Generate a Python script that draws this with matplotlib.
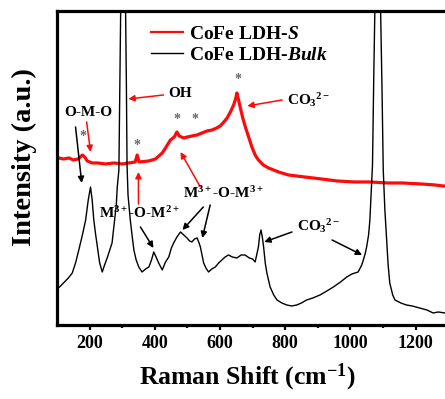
import numpy as np
import matplotlib
matplotlib.use("Agg")
import matplotlib.pyplot as plt

# ==========================================
# Data
# ==========================================
bulk_shift = [100, 108, 120, 135, 147, 157, 167, 178, 188, 196, 203, 208, 213, 218,
              224, 231, 239, 246, 254, 262, 269, 277, 282, 285, 290, 293, 296, 303,
              310, 313, 315, 318, 325, 331, 336, 343, 351, 361, 372, 382, 390, 397,
              404, 412, 423, 433, 443, 451, 458, 468, 479, 489, 499, 507, 514, 522,
              530, 536, 540, 545, 550, 557, 565, 575, 586, 596, 606, 616, 626, 638,
              652, 665, 677, 690, 700, 708, 714, 718, 722, 726, 730, 734, 739, 744,
              749, 754, 765, 775, 790, 805, 820, 836, 850, 866, 885, 907, 928, 948,
              970, 989, 1005, 1024, 1035, 1040, 1046, 1050, 1056, 1060, 1065, 1068,
              1072, 1076, 1084, 1092, 1097, 1101, 1106, 1111, 1116, 1121, 1130, 1137,
              1155, 1172, 1190, 1213, 1235, 1254, 1270, 1290, 1300]
bulk_int = [36, 38, 42, 47, 52, 62, 75, 90, 105, 125, 138, 125, 105, 92,
            78, 62, 53, 60, 67, 75, 82, 105, 120, 138, 155, 240, 330, 480,
            330, 240, 160, 130, 105, 88, 75, 65, 58, 53, 56, 58, 65, 73,
            68, 62, 55, 63, 68, 77, 82, 88, 93, 90, 87, 84, 83, 86,
            87, 82, 78, 70, 62, 57, 53, 56, 58, 62, 65, 68, 70, 68,
            67, 70, 70, 67, 66, 63, 72, 78, 90, 95, 88, 78, 62, 52,
            45, 38, 30, 25, 22, 20, 19, 20, 22, 25, 27, 30, 34, 38,
            43, 48, 51, 53, 60, 65, 72, 78, 90, 105, 138, 160,
            250, 330, 480, 330, 240, 155, 115, 88, 60, 42, 30, 25,
            22, 20, 19, 17, 15, 12, 13, 12, 11]

s_shift = [100, 106, 120, 137, 150, 165, 178, 185, 193, 208, 225, 249, 275, 300,
           320, 340, 346, 352, 382, 402, 423, 435, 448, 460, 468, 475, 489, 500,
           514, 530, 545, 560, 576, 590, 601, 612, 622, 632, 642, 648, 652, 657,
           662, 670, 678, 688, 698, 708, 718, 733, 749, 780, 810, 860, 912, 960,
           1014, 1060, 1116, 1160, 1218, 1260, 1284, 1300]
s_int = [167, 167, 166, 167, 165, 166, 170, 168, 164, 162, 162, 161, 162, 161,
         162, 163, 170, 163, 164, 166, 172, 178, 185, 188, 193, 189, 187, 188,
         189, 190, 192, 194, 195, 197, 199, 203, 207, 213, 220, 226, 232, 225,
         218, 207, 198, 188, 178, 170, 165, 160, 157, 153, 150, 148, 146, 144,
         143, 143, 142, 142, 141, 140, 139, 139]

x_ticks = [200, 400, 600, 800, 1000, 1200]
labels = ["CoFe LDH-$\\mathit{S}$", "CoFe LDH-$\\mathit{Bulk}$"]

# ==========================================
# Style
# ==========================================
plt.rcParams['font.family'] = ['Liberation Serif', 'DejaVu Serif']
plt.rcParams['font.weight'] = 'bold'
plt.rcParams['mathtext.fontset'] = 'custom'
plt.rcParams['mathtext.rm'] = 'Liberation Serif:bold'
plt.rcParams['mathtext.it'] = 'Liberation Serif:bold:italic'
plt.rcParams['mathtext.bf'] = 'Liberation Serif:bold'

fig = plt.figure(figsize=(4.45, 3.99), dpi=100)
ax = fig.add_axes([0.128, 0.1855, 0.879, 0.787])

red = '#ff0a0a'
ax.plot(s_shift, s_int, color=red, lw=2.3, label=labels[0])
ax.plot(bulk_shift, bulk_int, color='black', lw=1.0, label=labels[1])

ax.set_xlim(100, 1300)
ax.set_ylim(0, 314)
ax.set_xticks(x_ticks)
ax.set_xticks([300, 500, 700, 900, 1100], minor=True)
ax.set_yticks([])
ax.tick_params(axis='x', which='major', direction='out', length=3.5, width=1.6,
               labelsize=13, pad=4)
ax.tick_params(axis='x', which='minor', direction='out', length=2, width=1.6)
for lab in ax.get_xticklabels():
    lab.set_fontweight('bold')
for sp in ax.spines.values():
    sp.set_linewidth(2.3)

ax.set_xlabel('Raman Shift (cm$^{-1}$)', fontsize=18.5, fontweight='bold', labelpad=7)
ax.set_ylabel('Intensity (a.u.)', fontsize=20.5, fontweight='bold')
ax.yaxis.set_label_coords(-0.052, 0.535)
ax.xaxis.label.set_x(0.487)

leg = ax.legend(loc='upper left', bbox_to_anchor=(0.24, 0.955), frameon=False,
                fontsize=14, handlelength=1.65, handletextpad=0.3, labelspacing=0.2,
                borderpad=0, borderaxespad=0)
leg.get_lines()[0].set_linewidth(1.6)

# ==========================================
# Annotations
# ==========================================
fs = 11
co3 = 'CO$_3$$^{2-}$'

def arrow(tail, head, color):
    ax.annotate('', xy=head, xytext=tail,
                arrowprops=dict(arrowstyle='-|>', color=color, lw=1.1,
                                mutation_scale=9, shrinkA=0, shrinkB=0))

ax.text(197, 212, 'O-M-O', fontsize=fs, ha='center', va='center')
arrow((157, 198), (176, 142), 'black')
arrow((191, 203), (203, 173), red)

ax.text(440, 231, 'OH', fontsize=fs, ha='left', va='center')
arrow((427, 230), (319, 226), red)

ax.text(806, 225, co3, fontsize=fs, ha='left', va='center')
arrow((791, 225), (684, 219), red)

for sx, sy in [(179, 188), (344, 179), (469, 205), (524, 205), (656, 245)]:
    ax.text(sx, sy, '*', fontsize=10, color='#666666', ha='center', va='center')

arrow((350, 121), (350, 153), red)
arrow((540, 138), (479, 173), red)

ax.text(610, 132, 'M$^{3+}$-O-M$^{3+}$', fontsize=fs, ha='center', va='center')
arrow((549, 118), (485, 95), 'black')
arrow((570, 120), (546, 87), 'black')

ax.text(353, 112, 'M$^{3+}$-O-M$^{2+}$', fontsize=fs, ha='center', va='center')
arrow((356, 98), (396, 77), 'black')

ax.text(837, 99, co3, fontsize=fs, ha='left', va='center')
arrow((821, 93), (736, 83), 'black')
arrow((944, 85), (1036, 70), 'black')

fig.savefig('out.png', dpi=100)
